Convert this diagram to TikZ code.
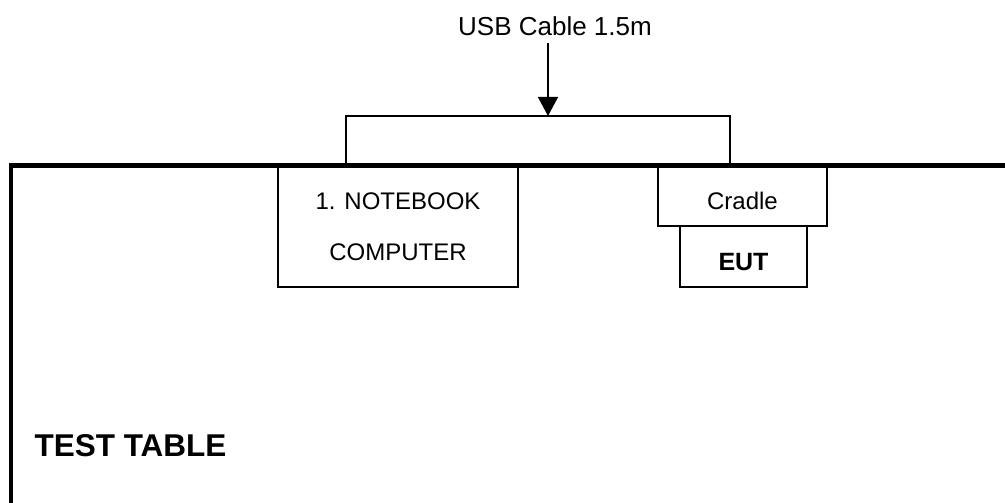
\documentclass[tikz,border=0pt]{standalone}
\usepackage{fontspec}
\setmainfont{Liberation Sans}
\usetikzlibrary{arrows.meta}

\begin{document}
\begin{tikzpicture}[x=1pt,y=-1pt,
	every node/.style={font=\fontsize{24}{51}\selectfont},
	box/.style={draw,line width=1.2pt,inner sep=0pt,align=center}]
	\useasboundingbox (0,0) rectangle (1005,503);
	% edge of the table
	\draw[line width=4.5pt] (1012,165.5) -- (10.75,165.5) -- (10.75,512);
	\node[anchor=base west,font=\fontsize{31.5}{36}\selectfont\bfseries] (tbl) at (31,456) {TEST TABLE};
	% units on the table
	\node[box,minimum width=240pt,minimum height=120pt] (nb) at (398,227) {1. NOTEBOOK\\COMPUTER};
	\node[box,minimum width=169pt,minimum height=59pt,text height=25pt,text depth=0pt] (cr) at (742.5,196.5) {Cradle};
	\node[box,minimum width=127pt,minimum height=61pt,text height=27pt,text depth=0pt,font=\fontsize{25}{30}\selectfont\bfseries] (eut) at (743.5,256.5) {EUT};
	% cable
	\node[anchor=base,font=\fontsize{26}{30}\selectfont] (usb) at (555,36) {USB Cable 1.5m};
	\coordinate (jl) at (346,116);
	\coordinate (jr) at (730,116);
	\coordinate (jm) at (548,116);
	\draw[line width=1.2pt] (jl |- nb.north) -- (jl) -- (jr) -- (jr |- cr.north);
	\draw[line width=1.2pt,-{Triangle[length=19pt,width=20pt]},shorten <=3pt] (usb.south -| jm) -- (jm);
\end{tikzpicture}
\end{document}
